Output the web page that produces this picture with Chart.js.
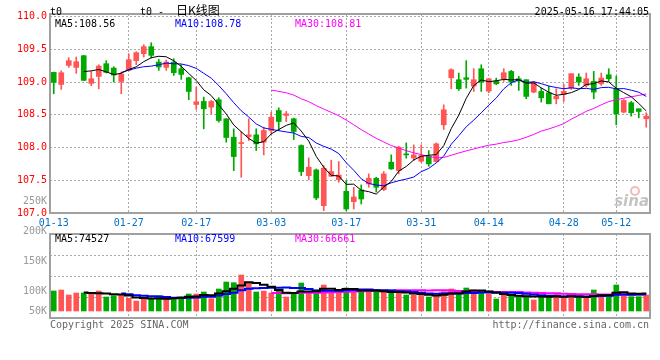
<!DOCTYPE html>
<html>
<head>
<meta charset="utf-8">
<script src="https://cdn.jsdelivr.net/npm/chart.js@4/dist/chart.umd.min.js"></script>
<style>
  html, body { margin: 0; padding: 0; background: #fff; }
  #wrap { position: relative; width: 660px; height: 360px; }
  #wrap canvas { position: absolute; left: 0; top: 0; }
</style>
</head>
<body>
<div id="wrap">
  <canvas id="kChart" width="660" height="360"></canvas>
  <canvas id="volChart" width="660" height="360"></canvas>
</div>
<script>
// ---- DATA ----
const dates = [
  '01-13','01-14','01-15','01-16','01-17','01-20','01-21','01-22','01-23','01-24','01-27',
  '02-05','02-06','02-07','02-10','02-11','02-12','02-13','02-14','02-17','02-18','02-19','02-20','02-21',
  '02-24','02-25','02-26','02-27','02-28',
  '03-03','03-04','03-05','03-06','03-07','03-10','03-11','03-12','03-13','03-14',
  '03-17','03-18','03-19','03-20','03-21','03-24','03-25','03-26','03-27','03-28','03-31',
  '04-01','04-02','04-03','04-07','04-08','04-09','04-10','04-11','04-14','04-15','04-16','04-17','04-18',
  '04-21','04-22','04-23','04-24','04-25','04-28','04-29','04-30',
  '05-06','05-07','05-08','05-09','05-12','05-13','05-14','05-15','05-16'
];
const tickDates = ['01-13','01-27','02-17','03-03','03-17','03-31','04-14','04-28','05-12'];

const opens = [
  109.148,108.964,109.255,109.224,109.403,108.980,109.087,109.281,109.214,109.010,
  109.179,109.327,109.434,109.541,109.306,109.224,109.306,109.204,109.066,108.658,
  108.704,108.617,108.730,108.439,108.158,108.061,108.168,108.194,108.082,108.260,
  108.566,108.490,108.439,108.031,107.571,107.658,107.112,107.561,107.510,107.332,
  107.173,107.352,107.444,107.531,107.357,107.776,107.648,107.903,107.842,107.791,
  107.867,107.786,108.347,109.066,109.036,109.066,108.939,109.204,108.862,109.015,
  109.051,109.163,109.051,109.036,108.847,108.857,108.837,108.745,108.811,108.908,
  109.077,108.949,109.010,108.974,109.112,108.898,108.541,108.684,108.592,108.439
];
const closes = [
  108.995,109.143,109.327,109.311,109.026,109.051,109.245,109.148,109.107,109.122,
  109.342,109.449,109.541,109.408,109.230,109.306,109.143,109.117,108.857,108.699,
  108.592,108.704,108.413,108.153,107.862,108.071,108.194,108.056,108.260,108.464,
  108.398,108.515,108.245,107.633,107.699,107.230,107.684,107.633,107.580,107.061,
  107.245,107.214,107.531,107.393,107.597,107.673,108.005,107.888,107.888,107.878,
  107.750,108.056,108.577,109.189,108.898,109.041,109.036,109.000,109.051,108.974,
  109.143,109.000,109.015,108.781,109.000,108.760,108.668,108.781,108.857,109.128,
  109.000,109.051,108.847,109.061,109.051,108.515,108.719,108.531,108.551,108.480
];
const highs = [
  109.153,109.173,109.372,109.383,109.408,109.163,109.265,109.327,109.235,109.153,
  109.434,109.464,109.571,109.602,109.347,109.337,109.357,109.265,109.075,108.923,
  108.770,108.720,108.760,108.440,108.286,108.245,108.439,108.286,108.311,108.541,
  108.607,108.551,108.449,108.041,107.842,107.673,107.724,107.806,107.786,107.495,
  107.393,107.429,107.597,107.546,107.633,107.888,108.020,108.071,108.041,108.041,
  107.954,108.071,108.653,109.204,109.138,109.327,109.204,109.265,109.051,109.061,
  109.204,109.179,109.087,109.036,109.010,108.908,108.939,108.898,108.964,109.128,
  109.128,109.138,109.163,109.138,109.204,109.092,108.735,108.704,108.592,108.531
];
const lows = [
  108.821,108.888,109.224,109.133,109.020,108.944,108.898,109.138,109.000,108.821,
  109.170,109.265,109.383,109.367,109.179,109.179,109.102,109.041,108.730,108.582,
  108.286,108.515,108.388,108.082,107.648,107.546,108.107,107.954,107.888,108.209,
  108.260,108.398,108.122,107.571,107.510,107.204,107.036,107.556,107.469,107.036,
  107.061,107.138,107.393,107.320,107.342,107.668,107.597,107.837,107.801,107.776,
  107.714,107.776,108.276,108.898,108.872,108.908,108.857,108.857,108.837,108.959,
  109.010,108.949,108.872,108.745,108.837,108.694,108.668,108.668,108.704,108.888,
  108.949,108.923,108.745,108.949,109.010,108.347,108.530,108.480,108.454,108.311
];
const volumes = [
  81600,85680,65280,73440,73440,69360,81600,57120,62560,63920,
  51680,40800,47600,51680,62560,47600,53040,57120,69360,69360,
  77520,50320,89760,118320,115600,146880,114240,77520,81600,73440,
  81600,57120,73440,114240,73440,85680,106080,76160,85680,93840,
  88400,76160,76160,85680,76160,72080,78880,65280,65280,65280,
  57120,65280,78880,89760,72080,93840,85680,78880,69360,48960,
  65280,65280,61200,61200,44880,61200,61200,69360,51680,55760,
  55760,58480,85680,65280,58480,106080,69360,58480,58480,65280
];

// values shown in the legends (last bar)
const maLast = [108.56, 108.78, 108.81];
const volMaLast = [74527, 67599, 66661];
const volAxisLabels = [250000, 200000, 150000, 100000, 50000];

// ---- STYLE ----
const RED = '#ff5555';
const GREEN = '#00a800';
const GRID = '#a8a8a8';
const FRAME = '#a0a0a0';
const MONO = '"DejaVu Sans Mono", "Liberation Mono", monospace';
const MA_COLORS = ['#000000', '#0000ff', '#ff00ff'];

// ---- DERIVED ----
function movingAverage(values, n) {
  return values.map((v, i) => {
    if (i < n - 1) return null;
    let sum = 0;
    for (let k = i - n + 1; k <= i; k++) sum += values[k];
    return sum / n;
  });
}

const candleColors = opens.map((o, i) => closes[i] >= o ? RED : GREEN);
const bodies = opens.map((o, i) => [o, closes[i]]);
const wicks = lows.map((l, i) => [l, highs[i]]);

const ma5 = movingAverage(closes, 5);
const ma10 = movingAverage(closes, 10);
const ma30 = movingAverage(closes, 30);
const vma5 = movingAverage(volumes, 5);
const vma10 = movingAverage(volumes, 10);
const vma30 = movingAverage(volumes, 30);

// ---- helpers ----
function drawText(ctx, s, x, y, color, align, font) {
  ctx.save();
  ctx.font = font || ('10px ' + MONO);
  ctx.fillStyle = color;
  ctx.textAlign = align || 'left';
  ctx.textBaseline = 'alphabetic';
  ctx.fillText(s, x, y);
  ctx.restore();
}

function drawFrame(chart) {
  const a = chart.chartArea;
  const ctx = chart.ctx;
  ctx.save();
  ctx.strokeStyle = FRAME;
  ctx.lineWidth = 2;
  ctx.strokeRect(a.left, a.top, a.right - a.left, a.bottom - a.top);
  ctx.restore();
}

function xScale(showLabels) {
  return {
    type: 'category',
    offset: true,
    grid: {
      offset: false,
      drawTicks: false,
      color: c => c.index === 0 ? 'rgba(0,0,0,0)' : GRID
    },
    border: { display: false, dash: [2, 2] },
    ticks: {
      display: showLabels,
      autoSkip: false,
      maxRotation: 0,
      color: '#0070c8',
      font: { family: MONO, size: 10 },
      padding: 4
    },
    afterBuildTicks: s => {
      s.ticks = s.ticks.filter(t => tickDates.includes(dates[t.value]));
    },
    afterFit: s => { s.height = showLabels ? 19 : 0; }
  };
}

function maLine(label, data, color, width, stepped) {
  return {
    type: 'line', label, data,
    borderColor: color, borderWidth: width,
    pointRadius: 0, fill: false, tension: 0,
    stepped: stepped || false, order: 0
  };
}

// ---- K-LINE PANEL ----
const kTextPlugin = {
  id: 'kText',
  afterDraw(chart) {
    const ctx = chart.ctx;
    const a = chart.chartArea;
    drawFrame(chart);
    drawText(ctx, 't0', a.left, 15, '#000');
    drawText(ctx, 't0 - ', 140, 15, '#000');
    drawText(ctx, '日K线图', 176, 15, '#000', 'left', '12px "Noto Sans CJK SC"');
    drawText(ctx, '2025-05-16 17:44:05', a.right - 1, 15, '#000', 'right');
    ['MA5:', 'MA10:', 'MA30:'].forEach((n, i) => {
      drawText(ctx, n + maLast[i].toFixed(2), a.left + 5 + i * 120, a.top + 13, MA_COLORS[i]);
    });
    // sina watermark
    ctx.save();
    ctx.strokeStyle = 'rgba(235,170,170,0.8)';
    ctx.lineWidth = 2;
    ctx.beginPath();
    ctx.arc(a.right - 15, a.bottom - 22, 4, 0, Math.PI * 2);
    ctx.stroke();
    ctx.restore();
    drawText(ctx, 'sina', a.right - 1, a.bottom - 7, 'rgba(190,190,190,0.9)', 'right',
      'italic bold 15px "DejaVu Sans"');
  }
};

new Chart(document.getElementById('kChart'), {
  data: {
    labels: dates,
    datasets: [
      maLine('MA5', ma5, MA_COLORS[0], 1),
      maLine('MA10', ma10, MA_COLORS[1], 1),
      maLine('MA30', ma30, MA_COLORS[2], 1),
      { type: 'bar', data: bodies, backgroundColor: candleColors, barThickness: 5,
        minBarLength: 1, grouped: false, order: 1 },
      { type: 'bar', data: wicks, backgroundColor: candleColors, barThickness: 1,
        grouped: false, order: 2 }
    ]
  },
  options: {
    responsive: false,
    animation: false,
    events: [],
    layout: { padding: { top: 14, right: 10, bottom: 128, left: 0 } },
    plugins: { legend: { display: false }, tooltip: { enabled: false } },
    scales: {
      x: xScale(true),
      y: {
        min: 107.0,
        max: 110.04,
        grid: { drawTicks: false, color: GRID },
        border: { display: false, dash: [2, 2] },
        ticks: {
          stepSize: 0.5,
          includeBounds: false,
          color: '#ff0000',
          font: { family: MONO, size: 10 },
          padding: 3,
          callback: v => Number(v).toFixed(1)
        },
        afterFit: s => { s.width = 50; }
      }
    }
  },
  plugins: [kTextPlugin]
});

// ---- VOLUME PANEL ----
const VOL_MIN = -28560;
const VOL_MAX = 314160;

const volTextPlugin = {
  id: 'volText',
  afterDraw(chart) {
    const ctx = chart.ctx;
    const a = chart.chartArea;
    drawFrame(chart);
    ['MA5:', 'MA10:', 'MA30:'].forEach((n, i) => {
      drawText(ctx, n + volMaLast[i], a.left + 5 + i * 120, a.top + 8, MA_COLORS[i]);
    });
    // sina puts its volume labels on a coarse 0.6px/K ladder, clamped above the bottom line
    volAxisLabels.forEach(v => {
      const y = Math.min(a.bottom + 36 - v * 0.0006, a.bottom - 4);
      drawText(ctx, (v / 1000) + 'K', a.left - 3, y, '#999999', 'right');
    });
    drawText(ctx, 'Copyright 2025 SINA.COM', a.left, a.bottom + 9.5, '#666666');
    drawText(ctx, 'http://finance.sina.com.cn', a.right - 1, a.bottom + 9.5, '#666666', 'right');
  }
};

new Chart(document.getElementById('volChart'), {
  data: {
    labels: dates,
    datasets: [
      maLine('MA5', vma5, MA_COLORS[0], 2, 'middle'),
      maLine('MA10', vma10, MA_COLORS[1], 2, 'middle'),
      maLine('MA30', vma30, MA_COLORS[2], 2, 'middle'),
      { type: 'bar', data: volumes, backgroundColor: candleColors, barThickness: 5,
        grouped: false, order: 1 }
    ]
  },
  options: {
    responsive: false,
    animation: false,
    events: [],
    layout: { padding: { top: 234, right: 10, bottom: 42, left: 0 } },
    plugins: { legend: { display: false }, tooltip: { enabled: false } },
    scales: {
      x: xScale(false),
      y: {
        min: VOL_MIN,
        max: VOL_MAX,
        grid: { drawTicks: false, color: GRID },
        border: { display: false, dash: [2, 2] },
        ticks: { display: false },
        afterBuildTicks: s => {
          s.ticks = [0, 1, 2, 3, 4].map(k => ({ value: VOL_MIN + k * (VOL_MAX - VOL_MIN) / 4 }));
        },
        afterFit: s => { s.width = 50; }
      }
    }
  },
  plugins: [volTextPlugin]
});
</script>
</body>
</html>
